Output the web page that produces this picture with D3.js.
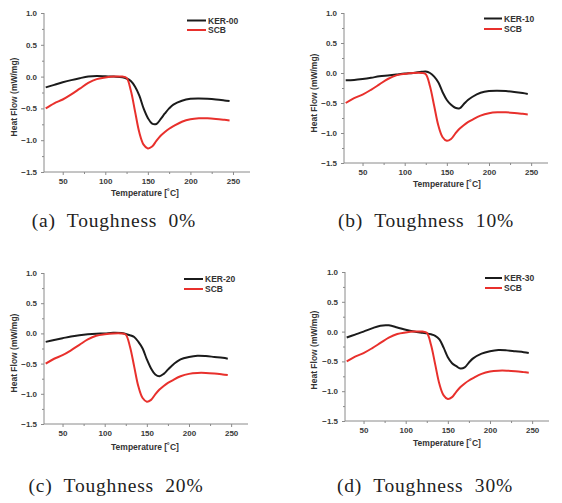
<!DOCTYPE html>
<html>
<head>
<meta charset="utf-8">
<script src="https://cdn.jsdelivr.net/npm/d3@7"></script>
<style>
  html, body { margin: 0; padding: 0; background: #fff; }
  svg { display: block; }
</style>
</head>
<body>
<svg id="chart" width="562" height="503"></svg>
<script>
// ---- data ----
const temps = [30, 40, 50, 60, 70, 80, 90, 100, 110, 120, 125, 130, 135, 140, 145, 150, 155, 160, 165, 170, 175, 180, 190, 200, 210, 220, 230, 240, 246];
const scb    = [-0.50, -0.42, -0.36, -0.28, -0.19, -0.10, -0.04, -0.015, 0.0, 0.0, -0.02, -0.22, -0.55, -0.88, -1.07, -1.13, -1.10, -1.01, -0.93, -0.87, -0.82, -0.78, -0.71, -0.67, -0.655, -0.655, -0.665, -0.68, -0.69];
const ker00  = [-0.17, -0.13, -0.09, -0.055, -0.025, 0.0, 0.01, 0.005, 0.0, -0.01, -0.03, -0.07, -0.16, -0.30, -0.50, -0.65, -0.74, -0.745, -0.67, -0.58, -0.50, -0.44, -0.38, -0.35, -0.345, -0.35, -0.36, -0.375, -0.385];
const ker10  = [-0.12, -0.115, -0.10, -0.08, -0.055, -0.04, -0.025, -0.01, 0.0, 0.02, 0.025, 0.0, -0.06, -0.16, -0.32, -0.45, -0.53, -0.58, -0.59, -0.52, -0.45, -0.40, -0.33, -0.30, -0.295, -0.30, -0.315, -0.335, -0.35];
const ker20  = [-0.14, -0.11, -0.08, -0.05, -0.03, -0.015, -0.005, 0.0, 0.01, 0.005, -0.01, -0.03, -0.06, -0.14, -0.25, -0.43, -0.58, -0.68, -0.71, -0.67, -0.60, -0.53, -0.43, -0.39, -0.37, -0.375, -0.39, -0.405, -0.42];
const ker30  = [-0.10, -0.05, 0.0, 0.055, 0.10, 0.105, 0.07, 0.03, 0.0, -0.02, -0.03, -0.045, -0.07, -0.13, -0.27, -0.43, -0.53, -0.58, -0.62, -0.60, -0.52, -0.45, -0.37, -0.33, -0.31, -0.315, -0.33, -0.345, -0.36];
const kerNames = ["KER-00", "KER-10", "KER-20", "KER-30"];
const kerSeries = [ker00, ker10, ker20, ker30];
const captions = ["(a)  Toughness  0%", "(b)  Toughness  10%", "(c)  Toughness  20%", "(d)  Toughness  30%"];
const xTicks = [50, 100, 150, 200, 250];
const yTicks = [1.0, 0.5, 0.0, -0.5, -1.0, -1.5];
const xDomain = [28, 270];
const yDomain = [-1.5, 1.0];

// ---- layout ----
const panels = [
  {l: 44,  r: 250, t: 13,  b: 172, xt: [145, 193], yt: [14, 97],   leg: [187, 206, 20.5, 30],  cap: [114, 220]},
  {l: 344, r: 548, t: 13,  b: 163, xt: [447, 184], yt: [314, 93],  leg: [484, 502, 18.5, 29],  cap: [426, 220]},
  {l: 44,  r: 248, t: 273, b: 424, xt: [145, 447], yt: [14, 353],  leg: [184, 203, 279, 289],  cap: [116, 485]},
  {l: 345, r: 549, t: 272, b: 421, xt: [447, 443], yt: [314, 350], leg: [485, 502, 278, 288],  cap: [425, 485]}
];

const svg = d3.select("#chart");
const sans = "Arial, 'Liberation Sans', sans-serif";
const black = "#1b1b1b", red = "#e8302c";

panels.forEach((p, i) => {
  const x = d3.scaleLinear().domain(xDomain).range([p.l, p.r]);
  const y = d3.scaleLinear().domain(yDomain).range([p.b, p.t]);
  const g = svg.append("g");

  const xMinor = d3.range(75, 270, 50);
  const yMinor = d3.range(-1.25, 1.0, 0.5);

  const xAxis = g.append("g").attr("transform", `translate(0,${p.b})`)
    .call(d3.axisBottom(x).tickValues(xTicks).tickFormat(d3.format("d")).tickSize(3).tickPadding(3));
  const yAxis = g.append("g").attr("transform", `translate(${p.l},0)`)
    .call(d3.axisLeft(y).tickValues(yTicks).tickFormat(d3.format(".1f")).tickSize(3).tickPadding(4));
  g.append("g").attr("transform", `translate(0,${p.b})`)
    .call(d3.axisBottom(x).tickValues(xMinor).tickFormat("").tickSize(2).tickSizeOuter(0))
    .select(".domain").remove();
  g.append("g").attr("transform", `translate(${p.l},0)`)
    .call(d3.axisLeft(y).tickValues(yMinor).tickFormat("").tickSize(2).tickSizeOuter(0))
    .select(".domain").remove();

  g.selectAll(".domain").attr("stroke", "#8a8a8a").attr("stroke-width", 1);
  g.selectAll(".tick line").attr("stroke", "#8a8a8a");
  g.selectAll(".tick text").attr("font-family", sans).attr("font-size", 8)
    .attr("font-weight", "bold").attr("fill", "#3a3a3a");
  xAxis.select(".domain").attr("d", `M${p.l},0H${p.r}`);
  yAxis.select(".domain").attr("d", `M0,${p.t}V${p.b}`);

  g.append("text").attr("x", p.xt[0]).attr("y", p.xt[1]).attr("text-anchor", "middle")
    .attr("dominant-baseline", "central")
    .attr("font-family", sans).attr("font-size", 8.5).attr("font-weight", "bold").attr("fill", "#333")
    .text("Temperature [\u02DAC]");
  g.append("text").attr("transform", `translate(${p.yt[0]},${p.yt[1]}) rotate(-90)`)
    .attr("text-anchor", "middle").attr("dominant-baseline", "central")
    .attr("font-family", sans).attr("font-size", 8.5).attr("font-weight", "bold").attr("fill", "#333")
    .text("Heat Flow (mW/mg)");

  const line = d3.line().x((d, k) => x(temps[k])).y(d => y(d)).curve(d3.curveCatmullRom.alpha(0.5));
  g.append("path").datum(kerSeries[i]).attr("d", line).attr("fill", "none")
    .attr("stroke", black).attr("stroke-width", 2);
  g.append("path").datum(scb).attr("d", line).attr("fill", "none")
    .attr("stroke", red).attr("stroke-width", 2);

  const lg = [[kerNames[i], black, p.leg[2]], ["SCB", red, p.leg[3]]];
  lg.forEach(([name, col, ly]) => {
    g.append("line").attr("x1", p.leg[0]).attr("x2", p.leg[1]).attr("y1", ly).attr("y2", ly)
      .attr("stroke", col).attr("stroke-width", 2);
    g.append("text").attr("x", p.leg[1] + 2).attr("y", ly).attr("dominant-baseline", "central")
      .attr("font-family", sans).attr("font-size", 8.5).attr("font-weight", "bold").attr("fill", "#333")
      .text(name);
  });

  svg.append("text").attr("x", p.cap[0]).attr("y", p.cap[1]).attr("text-anchor", "middle")
    .attr("dominant-baseline", "central")
    .attr("font-family", "'Liberation Serif', 'DejaVu Serif', serif").attr("font-size", 19.5)
    .attr("letter-spacing", 0.8)
    .attr("fill", "#222").attr("xml:space", "preserve").style("white-space", "pre")
    .text(captions[i]);
});
</script>
</body>
</html>
